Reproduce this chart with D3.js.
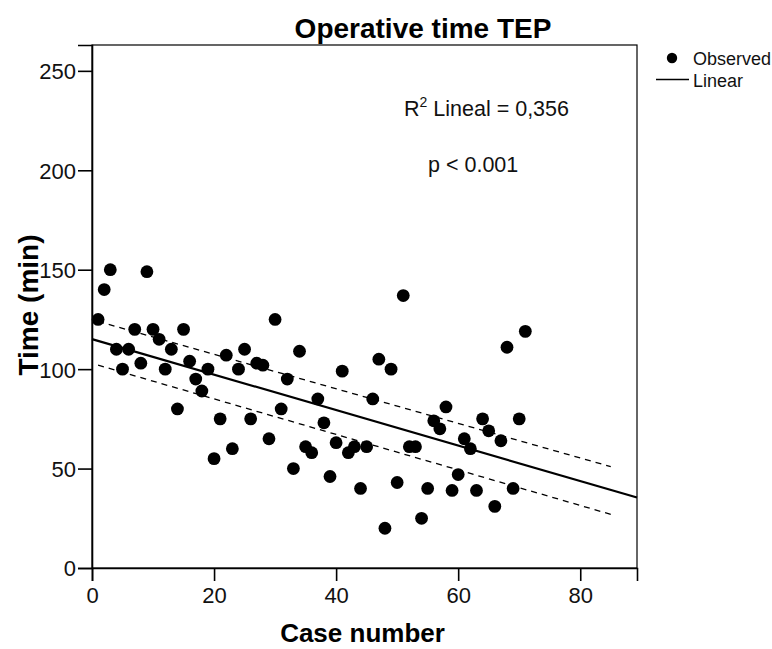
<!DOCTYPE html>
<html>
<head>
<meta charset="utf-8">
<script src="https://cdn.jsdelivr.net/npm/d3@7"></script>
<style>
  body { margin: 0; background: #fff; }
  text { font-family: "Liberation Sans", Arial, sans-serif; }
</style>
</head>
<body>
<div id="chart"></div>
<script>
// case numbers and operative time (min)
const caseNumber = d3.range(1, 72);
const timeMin = [125, 140, 150, 110, 100, 110, 120, 103, 149, 120,
  115, 100, 110, 80, 120, 104, 95, 89, 100, 55,
  75, 107, 60, 100, 110, 75, 103, 102, 65, 125,
  80, 95, 50, 109, 61, 58, 85, 73, 46, 63,
  99, 58, 61, 40, 61, 85, 105, 20, 100, 43,
  137, 61, 61, 25, 40, 74, 70, 81, 39, 47,
  65, 60, 39, 75, 69, 31, 64, 111, 40, 75, 119];
const xTicks = [0, 20, 40, 60, 80];
const yTicks = [0, 50, 100, 150, 200, 250];
// dashed interval lines at their ends
const ciX = [1, 85];
const ciUpper = [124, 51];
const ciLower = [102, 27];

const W = 772, H = 649;
const margin = {top: 45, right: 135, bottom: 81, left: 92};
const width = W - margin.left - margin.right,
      height = H - margin.top - margin.bottom;

const svg = d3.select("#chart").append("svg")
  .attr("width", W).attr("height", H);

const g = svg.append("g")
  .attr("transform", `translate(${margin.left},${margin.top})`);

const xMax = 89.3;
const x = d3.scaleLinear().domain([0, xMax]).range([0, width]);
const y = d3.scaleLinear().domain([0, 263]).range([height, 0]);

// linear fit
const data = caseNumber.map((c, i) => ({x: c, y: timeMin[i]}));
const mx = d3.mean(data, d => d.x), my = d3.mean(data, d => d.y);
const sxx = d3.sum(data, d => (d.x - mx) ** 2);
const sxy = d3.sum(data, d => (d.x - mx) * (d.y - my));
const slope = sxy / sxx, intercept = my - slope * mx;
const fit = v => intercept + slope * v;

// frame
g.append("rect").attr("width", width).attr("height", height)
  .attr("fill", "none").attr("stroke", "#000").attr("stroke-width", 1.2);

// axes
const xAxis = g.append("g").attr("transform", `translate(0,${height})`)
  .call(d3.axisBottom(x).tickValues(xTicks).tickSize(13).tickPadding(6));
const yAxis = g.append("g")
  .call(d3.axisLeft(y).tickValues(yTicks).tickSize(14).tickPadding(2));
[xAxis, yAxis].forEach(a => {
  a.select(".domain").attr("stroke-width", 1.6);
  a.selectAll(".tick line").attr("stroke-width", 1.6);
  a.selectAll("text").attr("font-size", 22).attr("fill", "#111")
    .style("font-family", "'Liberation Sans', Arial, sans-serif");
});
yAxis.selectAll("text").attr("dy", "0.36em");

// interval dashed lines
const band = vals => d3.line().x((v, i) => x(ciX[i])).y(v => y(v))(vals);
[ciUpper, ciLower].forEach(vals => {
  g.append("path").attr("d", band(vals))
    .attr("fill", "none").attr("stroke", "#000").attr("stroke-width", 1.3)
    .attr("stroke-dasharray", "6,5");
});

// fit line
g.append("line")
  .attr("x1", x(0)).attr("y1", y(fit(0)))
  .attr("x2", x(xMax)).attr("y2", y(fit(xMax)))
  .attr("stroke", "#000").attr("stroke-width", 2.2);

// points
g.selectAll("circle.pt").data(data).join("circle")
  .attr("class", "pt")
  .attr("cx", d => x(d.x)).attr("cy", d => y(d.y))
  .attr("r", 6.4).attr("fill", "#000");

// annotations
const ann = svg.append("text").attr("x", 404).attr("y", 116)
  .attr("font-size", 21.5).attr("fill", "#111");
ann.append("tspan").text("R");
ann.append("tspan").attr("font-size", 14).attr("dy", -9).text("2");
ann.append("tspan").attr("dy", 9).text(" Lineal = 0,356");

svg.append("text").attr("x", 428).attr("y", 172)
  .attr("font-size", 21.5).attr("fill", "#111").text("p < 0.001");

// title and labels
svg.append("text").attr("x", 423).attr("y", 38).attr("text-anchor", "middle")
  .attr("font-size", 28).attr("font-weight", "bold").text("Operative time TEP");
svg.append("text").attr("x", margin.left + width / 2 - 2).attr("y", 642)
  .attr("text-anchor", "middle").attr("font-size", 26).attr("font-weight", "bold")
  .text("Case number");
svg.append("text").attr("transform", "translate(38,305) rotate(-90)")
  .attr("text-anchor", "middle").attr("font-size", 28).attr("font-weight", "bold")
  .text("Time (min)");

// legend
const lg = svg.append("g");
lg.append("circle").attr("cx", 672).attr("cy", 58).attr("r", 5.2).attr("fill", "#000");
lg.append("text").attr("x", 693).attr("y", 65).attr("font-size", 18).attr("fill", "#111").text("Observed");
lg.append("line").attr("x1", 656).attr("x2", 689).attr("y1", 79.5).attr("y2", 79.5)
  .attr("stroke", "#000").attr("stroke-width", 1.5);
lg.append("text").attr("x", 693).attr("y", 87).attr("font-size", 18).attr("fill", "#111").text("Linear");
</script>
</body>
</html>
